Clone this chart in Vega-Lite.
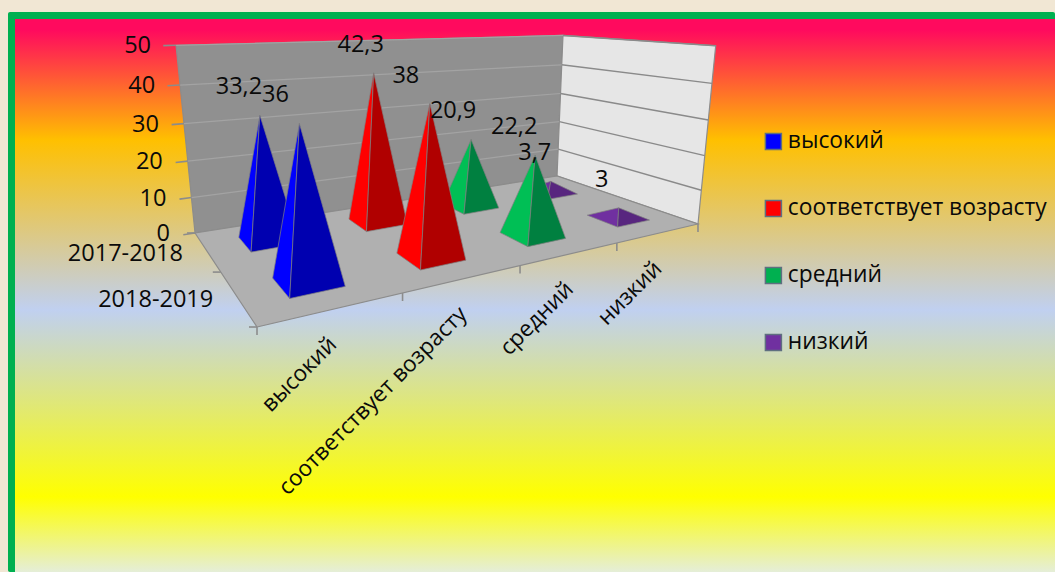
{
"$schema":"https://vega.github.io/schema/vega-lite/v6.json",
"width":1055,"height":572,
"autosize":{"type":"fit","contains":"padding"},
"padding":0,
"background":"#F1E7D4",
"config":{"view":{"stroke":null},"text":{"font":"Open Sans","fontSize":23.5,"fill":"#0a0a0a"},"legend":{"labelFont":"Open Sans"}},
"datasets":{
"main":[
{"category":"высокий","year":"2017-2018","value":33.2},
{"category":"соответствует возрасту","year":"2017-2018","value":42.3},
{"category":"средний","year":"2017-2018","value":20.9},
{"category":"низкий","year":"2017-2018","value":3.7},
{"category":"высокий","year":"2018-2019","value":36},
{"category":"соответствует возрасту","year":"2018-2019","value":38},
{"category":"средний","year":"2018-2019","value":22.2},
{"category":"низкий","year":"2018-2019","value":3}
],
"walls":[{"wall":"back"},{"wall":"right"},{"wall":"floor"}],
"grid":[{"tick":0},{"tick":10},{"tick":20},{"tick":30},{"tick":40},{"tick":50}],
"cats":[{"category":"высокий"},{"category":"соответствует возрасту"},{"category":"средний"},{"category":"низкий"}],
"years":[{"year":"2017-2018"},{"year":"2018-2019"}]
},
"encoding":{
"x":{"field":"px","type":"quantitative","axis":null,"scale":{"domain":[0,1055],"nice":false,"zero":false}},
"y":{"field":"py","type":"quantitative","axis":null,"scale":{"domain":[572,0],"nice":false,"zero":false}}
},
"layer":[
{"data":{"values":[{"frame":"border"}]},
"transform":[{"calculate":"8","as":"px"},{"calculate":"1055","as":"px2"},{"calculate":"12","as":"py"},{"calculate":"572","as":"py2"}],
"mark":{"type":"rect","fill":"#00B050","cornerRadius":2},
"encoding":{"x2":{"field":"px2"},"y2":{"field":"py2"}}},
{"data":{"values":[{"frame":"panel"}]},
"transform":[{"calculate":"15","as":"px"},{"calculate":"1055","as":"px2"},{"calculate":"19","as":"py"},{"calculate":"572","as":"py2"}],
"mark":{"type":"rect","fill":{"gradient":"linear","x1":0,"x2":0,"y1":0,"y2":1,"stops":[{"offset":0,"color":"#FF0A5E"},{"offset":0.02,"color":"#FF0A5E"},{"offset":0.219,"color":"#FFC000"},{"offset":0.526,"color":"#C0D0F0"},{"offset":0.864,"color":"#FFFF00"},{"offset":1,"color":"#E5EED8"}]}},
"encoding":{"x2":{"field":"px2"},"y2":{"field":"py2"}}},
{"data":{"name":"walls"},
"transform":[
{"calculate":"datum.wall=='back'?[[0,1,0],[1,1,0],[1,1,1],[0,1,1],[0,1,0]]:datum.wall=='right'?[[1,1,0],[1,0,0],[1,0,1],[1,1,1],[1,1,0]]:[[0,0,0],[1,0,0],[1,1,0],[0,1,0],[0,0,0]]","as":"corner"},
{"calculate":"[0,1,2,3,4]","as":"idx"},
{"flatten":["corner","idx"]},
{"calculate":"datum.corner[0]","as":"u"},{"calculate":"datum.corner[1]","as":"v"},{"calculate":"datum.corner[2]","as":"h"},
{"calculate":"1+0.4781*datum.u+0.4044*datum.v-0.0979*datum.h","as":"w"},
{"calculate":"(774.7*datum.u+16.9*datum.v+257-43.9*datum.h)/datum.w","as":"px"},
{"calculate":"(4.1*datum.u+0.2*datum.v+327-268*datum.h)/datum.w","as":"py"}
],
"mark":{"type":"line","stroke":"#8C8C8C","strokeWidth":1.2},
"encoding":{"detail":{"field":"wall"},"order":{"field":"idx","type":"ordinal"},
"fill":{"field":"wall","type":"nominal","legend":null,"scale":{"domain":["back","right","floor","высокий|left","высокий|right","соответствует возрасту|left","соответствует возрасту|right","средний|left","средний|right","низкий|left","низкий|right"],"range":["#909090","#E6E6E6","#B0B0B0","#0000FF","#0000B0","#FF0000","#B00000","#00BF55","#008040","#7030A0","#58267F"]}}}},
{"data":{"name":"grid"},
"transform":[
{"filter":"datum.tick>0"},
{"calculate":"[[0,1],[1,1]]","as":"corner"},
{"calculate":"[0,1]","as":"idx"},
{"flatten":["corner","idx"]},
{"calculate":"datum.corner[0]","as":"u"},{"calculate":"datum.corner[1]","as":"v"},{"calculate":"datum.tick/50","as":"h"},
{"calculate":"1+0.4781*datum.u+0.4044*datum.v-0.0979*datum.h","as":"w"},
{"calculate":"(774.7*datum.u+16.9*datum.v+257-43.9*datum.h)/datum.w","as":"px"},
{"calculate":"(4.1*datum.u+0.2*datum.v+327-268*datum.h)/datum.w","as":"py"}
],
"mark":{"type":"line","stroke":"#A3A3A3","strokeWidth":1.2},
"encoding":{"detail":{"field":"tick"},"order":{"field":"idx","type":"ordinal"}}},
{"data":{"name":"grid"},
"transform":[
{"filter":"datum.tick>0"},
{"calculate":"[[1,1],[1,0]]","as":"corner"},
{"calculate":"[0,1]","as":"idx"},
{"flatten":["corner","idx"]},
{"calculate":"datum.corner[0]","as":"u"},{"calculate":"datum.corner[1]","as":"v"},{"calculate":"datum.tick/50","as":"h"},
{"calculate":"1+0.4781*datum.u+0.4044*datum.v-0.0979*datum.h","as":"w"},
{"calculate":"(774.7*datum.u+16.9*datum.v+257-43.9*datum.h)/datum.w","as":"px"},
{"calculate":"(4.1*datum.u+0.2*datum.v+327-268*datum.h)/datum.w","as":"py"}
],
"mark":{"type":"line","stroke":"#8A8A8A","strokeWidth":1.4},
"encoding":{"detail":{"field":"tick"},"order":{"field":"idx","type":"ordinal"}}},
{"data":{"name":"grid"},
"transform":[
{"calculate":"[-0.024,0]","as":"u"},
{"calculate":"[0,1]","as":"idx"},
{"flatten":["u","idx"]},
{"calculate":"1","as":"v"},{"calculate":"datum.tick/50","as":"h"},
{"calculate":"1+0.4781*datum.u+0.4044*datum.v-0.0979*datum.h","as":"w"},
{"calculate":"(774.7*datum.u+16.9*datum.v+257-43.9*datum.h)/datum.w","as":"px"},
{"calculate":"(4.1*datum.u+0.2*datum.v+327-268*datum.h)/datum.w","as":"py"}
],
"mark":{"type":"line","stroke":"#8C8C8C","strokeWidth":1.6},
"encoding":{"detail":{"field":"tick"},"order":{"field":"idx","type":"ordinal"}}},
{"data":{"values":[{"tick":0},{"tick":0.25},{"tick":0.5},{"tick":0.75},{"tick":1}]},
"transform":[
{"calculate":"[0,1]","as":"idx"},
{"flatten":["idx"]},
{"calculate":"datum.tick","as":"u"},{"calculate":"0","as":"v"},{"calculate":"0","as":"h"},
{"calculate":"1+0.4781*datum.u+0.4044*datum.v-0.0979*datum.h","as":"w"},
{"calculate":"(774.7*datum.u+16.9*datum.v+257-43.9*datum.h)/datum.w","as":"fx"},
{"calculate":"(4.1*datum.u+0.2*datum.v+327-268*datum.h)/datum.w","as":"fy"},
{"calculate":"datum.fx","as":"px"},{"calculate":"datum.fy+datum.idx*8","as":"py"}
],
"mark":{"type":"line","stroke":"#8C8C8C","strokeWidth":1.6},
"encoding":{"detail":{"field":"tick"},"order":{"field":"idx","type":"ordinal"}}},
{"data":{"values":[{"tick":0},{"tick":0.5},{"tick":1}]},
"transform":[
{"calculate":"[0,1]","as":"idx"},
{"flatten":["idx"]},
{"calculate":"0","as":"u"},{"calculate":"datum.tick","as":"v"},{"calculate":"0","as":"h"},
{"calculate":"1+0.4781*datum.u+0.4044*datum.v-0.0979*datum.h","as":"w"},
{"calculate":"(774.7*datum.u+16.9*datum.v+257-43.9*datum.h)/datum.w","as":"fx"},
{"calculate":"(4.1*datum.u+0.2*datum.v+327-268*datum.h)/datum.w","as":"fy"},
{"calculate":"datum.fx-datum.idx*8","as":"px"},{"calculate":"datum.fy","as":"py"}
],
"mark":{"type":"line","stroke":"#8C8C8C","strokeWidth":1.6},
"encoding":{"detail":{"field":"tick"},"order":{"field":"idx","type":"ordinal"}}},
{"data":{"name":"main"},
"transform":[
{"calculate":"indexof(['высокий','соответствует возрасту','средний','низкий'],datum.category)","as":"cat"},
{"calculate":"(datum.cat+0.5)/4","as":"uc"},
{"calculate":"datum.year=='2018-2019'?0.25:0.75","as":"vc"},
{"calculate":"['left','right']","as":"face"},
{"flatten":["face"]},
{"calculate":"[0,1,2,3]","as":"vtx"},
{"flatten":["vtx"]},
{"calculate":"datum.category+'|'+datum.year+'|'+datum.face","as":"key"},
{"calculate":"datum.category+'|'+datum.face","as":"shade"},
{"calculate":"datum.vtx%3","as":"vv"},
{"calculate":"datum.vv==2?datum.uc:(datum.face=='left'?datum.uc-0.05:(datum.vv==0?datum.uc-0.05:datum.uc+0.05))","as":"u"},
{"calculate":"datum.vv==2?datum.vc:(datum.face=='left'?(datum.vv==0?datum.vc+0.1:datum.vc-0.1):datum.vc-0.1)","as":"v"},
{"calculate":"datum.vv==2?datum.value/50:0","as":"h"},
{"calculate":"1+0.4781*datum.u+0.4044*datum.v-0.0979*datum.h","as":"w"},
{"calculate":"(774.7*datum.u+16.9*datum.v+257-43.9*datum.h)/datum.w","as":"px"},
{"calculate":"(4.1*datum.u+0.2*datum.v+327-268*datum.h)/datum.w","as":"py"}
],
"mark":{"type":"line","stroke":"#808080","strokeWidth":1,"strokeOpacity":0.7},
"encoding":{"detail":{"field":"key"},"order":{"field":"vtx","type":"ordinal"},
"fill":{"field":"shade","type":"nominal","legend":null,"scale":{"domain":["back","right","floor","высокий|left","высокий|right","соответствует возрасту|left","соответствует возрасту|right","средний|left","средний|right","низкий|left","низкий|right"],"range":["#909090","#E6E6E6","#B0B0B0","#0000FF","#0000B0","#FF0000","#B00000","#00BF55","#008040","#7030A0","#58267F"]}}}},
{"data":{"name":"main"},
"transform":[
{"calculate":"(indexof(['высокий','соответствует возрасту','средний','низкий'],datum.category)+0.5)/4","as":"u"},
{"calculate":"datum.year=='2018-2019'?0.25:0.75","as":"v"},
{"calculate":"datum.value/50","as":"h"},
{"calculate":"1+0.4781*datum.u+0.4044*datum.v-0.0979*datum.h","as":"w"},
{"calculate":"(774.7*datum.u+16.9*datum.v+257-43.9*datum.h)/datum.w+({'высокий|2017-2018':-21,'высокий|2018-2019':-24,'соответствует возрасту|2017-2018':-13,'соответствует возрасту|2018-2019':-24,'средний|2017-2018':-18,'средний|2018-2019':-21,'низкий|2017-2018':-16,'низкий|2018-2019':-17})[datum.category+'|'+datum.year]","as":"px"},
{"calculate":"(4.1*datum.u+0.2*datum.v+327-268*datum.h)/datum.w-28","as":"py"},
{"calculate":"replace(''+datum.value,'.',',')","as":"label"}
],
"mark":{"type":"text","align":"center","baseline":"middle"},
"encoding":{"text":{"field":"label"}}},
{"data":{"name":"grid"},
"transform":[
{"calculate":"0","as":"u"},{"calculate":"1","as":"v"},{"calculate":"datum.tick/50","as":"h"},
{"calculate":"1+0.4781*datum.u+0.4044*datum.v-0.0979*datum.h","as":"w"},
{"calculate":"(774.7*datum.u+16.9*datum.v+257-43.9*datum.h)/datum.w-25","as":"px"},
{"calculate":"(4.1*datum.u+0.2*datum.v+327-268*datum.h)/datum.w+1","as":"py"}
],
"mark":{"type":"text","align":"right","baseline":"middle"},
"encoding":{"text":{"field":"tick"}}},
{"data":{"name":"years"},
"transform":[
{"calculate":"0","as":"u"},{"calculate":"datum.year=='2018-2019'?0.25:0.75","as":"v"},{"calculate":"0","as":"h"},
{"calculate":"1+0.4781*datum.u+0.4044*datum.v-0.0979*datum.h","as":"w"},
{"calculate":"(774.7*datum.u+16.9*datum.v+257-43.9*datum.h)/datum.w-24","as":"px"},
{"calculate":"(4.1*datum.u+0.2*datum.v+327-268*datum.h)/datum.w+3","as":"py"}
],
"mark":{"type":"text","align":"right","baseline":"middle"},
"encoding":{"text":{"field":"year"}}},
{"data":{"name":"cats"},
"transform":[
{"calculate":"(indexof(['высокий','соответствует возрасту','средний','низкий'],datum.category)+0.5)/4","as":"u"},{"calculate":"0","as":"v"},{"calculate":"0","as":"h"},
{"calculate":"1+0.4781*datum.u+0.4044*datum.v-0.0979*datum.h","as":"w"},
{"calculate":"(774.7*datum.u+16.9*datum.v+257-43.9*datum.h)/datum.w-1","as":"px"},
{"calculate":"(4.1*datum.u+0.2*datum.v+327-268*datum.h)/datum.w+32","as":"py"}
],
"mark":{"type":"text","align":"right","baseline":"middle","angle":315,"fontSize":22.5},
"encoding":{"text":{"field":"category"}}},
{"data":{"name":"cats"},
"transform":[{"calculate":"900","as":"px"},{"calculate":"240","as":"py"}],
"mark":{"type":"point","filled":true,"size":0,"opacity":0},
"encoding":{"color":{"field":"category","type":"nominal","scale":{"domain":["высокий","соответствует возрасту","средний","низкий"],"range":["#0000FF","#FF0000","#00B050","#7030A0"]},
"legend":{"orient":"none","legendX":762,"legendY":130,"title":null,"symbolType":"square","symbolSize":256,"symbolOpacity":1,"symbolStrokeColor":"#5F6F80","symbolStrokeWidth":1.5,"labelFontSize":22.8,"labelColor":"#0a0a0a","labelFont":"Open Sans","rowPadding":43,"labelOffset":3,"labelLimit":320}}}}
]
}
